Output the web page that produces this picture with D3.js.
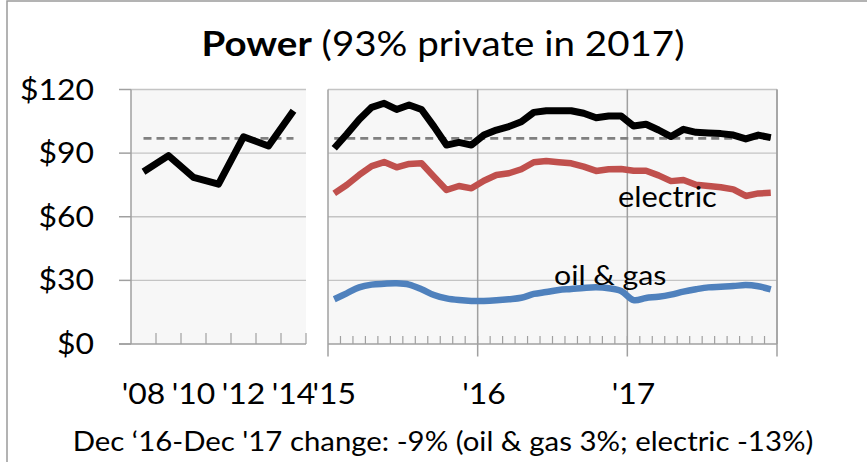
<!DOCTYPE html>
<html>
<head>
  <meta charset="UTF-8">
  <style>
    body { margin: 0; background: #fff; }
    svg text { font-family: Lato, "Open Sans", sans-serif; fill: #000; }
  </style>
  <script src="https://cdn.jsdelivr.net/npm/d3@7"></script>
</head>
<body>
<svg id="chart" width="867" height="462"></svg>
<script>
// annual totals, 2008-2014
const years = [2008, 2009, 2010, 2011, 2012, 2013, 2014];
const yearTotal = [81.2, 88.8, 78.6, 75.4, 97.7, 93.4, 110.0];
const yearLabels = {2008: "'08", 2010: "'10", 2012: "'12", 2014: "'14"};

// monthly, Jan 2015 - Dec 2017
const months = [2015, 2016, 2017].flatMap(y => d3.range(1, 13).map(m => y + "-" + m));
const monthLabels = {"2015-1": "'15", "2016-1": "'16", "2017-1": "'17"};
const total = [92.3, 98.9, 105.9, 111.6, 113.5, 110.6, 112.7, 110.6, 102.5, 93.8, 95.1, 93.8,
               98.5, 100.9, 102.5, 104.8, 109.2, 110.0, 110.0, 110.0, 108.8, 106.7, 107.5, 107.5,
               102.8, 103.6, 100.9, 97.8, 101.2, 99.8, 99.5, 99.2, 98.5, 96.7, 98.5, 97.3];
const electric = [71.0, 75.0, 79.7, 83.9, 85.8, 83.3, 84.9, 85.2, 78.9, 72.6, 74.5, 73.4,
                  77.0, 79.7, 80.5, 82.4, 85.7, 86.3, 85.7, 85.2, 83.6, 81.6, 82.4, 82.5,
                  81.7, 81.7, 79.5, 76.8, 77.3, 75.1, 74.5, 73.9, 72.9, 69.8, 71.0, 71.3];
const oilGas = [21.1, 23.9, 26.7, 28.0, 28.4, 28.6, 28.0, 25.8, 23.1, 21.5, 20.7, 20.3,
                20.3, 20.6, 21.1, 21.8, 23.6, 24.5, 25.5, 25.9, 26.4, 26.7, 26.3, 25.0,
                20.7, 21.7, 22.3, 23.3, 24.7, 25.8, 26.7, 27.0, 27.3, 27.8, 27.2, 25.8];
const refLevel = 97;   // Dec '17 level, dashed
const yTicks = [0, 30, 60, 90, 120];

const sx = 1.1; // text in the original is a bit wide
const svg = d3.select("#chart");

let y = d3.scaleLinear().domain([0, 120]).range([344, 89.5]);
let xL = d3.scaleBand().domain(years).range([131, 306]);
let xR = d3.scaleBand().domain(months).range([328, 777]);

function txt(x, yy, s, size, anchor, k) {
  return svg.append("text")
    .attr("transform", "translate(" + x + "," + yy + ") scale(" + (k || sx) + ",1)")
    .attr("text-anchor", anchor || "start")
    .style("font-size", size + "px")
    .text(s);
}

// outer frame
svg.append("rect").attr("x", 7).attr("y", 1).attr("width", 900).attr("height", 500)
  .attr("fill", "none").attr("stroke", "#9a9a9a").attr("stroke-width", 1.5);

// plot backgrounds
svg.append("rect").attr("x", 131).attr("y", y(120)).attr("width", 306 - 131).attr("height", y(0) - y(120)).attr("fill", "#f7f7f7");
svg.append("rect").attr("x", 328).attr("y", y(120)).attr("width", 777 - 328).attr("height", y(0) - y(120)).attr("fill", "#f7f7f7");

// horizontal grid
[[131, 306], [328, 777]].forEach(r => {
  svg.append("g").selectAll("line").data(yTicks.filter(d => d > 0)).join("line")
    .attr("x1", r[0]).attr("x2", r[1]).attr("y1", d => y(d)).attr("y2", d => y(d))
    .attr("stroke", "#c4c4c4").attr("stroke-width", 1.3);
});

// right panel frame + year gridlines
svg.append("line").attr("x1", 777).attr("x2", 777).attr("y1", y(120)).attr("y2", y(0))
  .attr("stroke", "#a6a6a6").attr("stroke-width", 1.5);
let yearStarts = ["2015-1", "2016-1", "2017-1"].map(m => xR(m)).concat([777]);
svg.append("g").selectAll("line").data(yearStarts).join("line")
  .attr("x1", d => d).attr("x2", d => d).attr("y1", y(120)).attr("y2", y(0) + 12.5)
  .attr("stroke", "#a0a0a0").attr("stroke-width", 1.5);

// month minor ticks
svg.append("g").selectAll("line").data(months.slice(1)).join("line")
  .attr("x1", d => xR(d)).attr("x2", d => xR(d)).attr("y1", y(0) - 8).attr("y2", y(0))
  .attr("stroke", "#a0a0a0").attr("stroke-width", 1.2);
svg.append("line").attr("x1", 328).attr("x2", 777).attr("y1", y(0)).attr("y2", y(0))
  .attr("stroke", "#a0a0a0").attr("stroke-width", 1.5);

// left panel axes
svg.append("line").attr("x1", 131).attr("x2", 131).attr("y1", y(120)).attr("y2", y(0))
  .attr("stroke", "#a0a0a0").attr("stroke-width", 1.5);
svg.append("g").selectAll("line").data(yTicks).join("line")
  .attr("x1", 119).attr("x2", 131).attr("y1", d => y(d)).attr("y2", d => y(d))
  .attr("stroke", "#a0a0a0").attr("stroke-width", 1.5);
svg.append("line").attr("x1", 119).attr("x2", 306).attr("y1", y(0)).attr("y2", y(0))
  .attr("stroke", "#a0a0a0").attr("stroke-width", 1.5);
svg.append("g").selectAll("line").data(years).join("line")
  .attr("x1", d => xL(d) + xL.bandwidth()).attr("x2", d => xL(d) + xL.bandwidth())
  .attr("y1", y(0) - 11).attr("y2", y(0))
  .attr("stroke", "#a0a0a0").attr("stroke-width", 1.2);

// dashed reference
let cL = d => xL(d) + xL.bandwidth() / 2;
let cR = d => xR(d) + xR.bandwidth() / 2;
svg.append("line").attr("x1", cL(years[0])).attr("x2", cL(years[years.length - 1]))
  .attr("y1", y(refLevel)).attr("y2", y(refLevel))
  .attr("stroke", "#808080").attr("stroke-width", 2.7).attr("stroke-dasharray", "8,5");
svg.append("line").attr("x1", cR(months[0])).attr("x2", cR(months[months.length - 1]))
  .attr("y1", y(refLevel)).attr("y2", y(refLevel))
  .attr("stroke", "#808080").attr("stroke-width", 2.7).attr("stroke-dasharray", "8,5");

// lines
let lineL = d3.line().x((d, i) => cL(years[i])).y(d => y(d));
let lineR = d3.line().x((d, i) => cR(months[i])).y(d => y(d));
svg.append("path").attr("d", lineL(yearTotal)).attr("fill", "none")
  .attr("stroke", "#000").attr("stroke-width", 7).attr("stroke-linejoin", "round");
svg.append("path").attr("d", lineR.curve(d3.curveCatmullRom)(oilGas)).attr("fill", "none")
  .attr("stroke", "#4f81bd").attr("stroke-width", 6.5).attr("stroke-linejoin", "round");
lineR.curve(d3.curveLinear);
svg.append("path").attr("d", lineR(electric)).attr("fill", "none")
  .attr("stroke", "#c0504d").attr("stroke-width", 6.5).attr("stroke-linejoin", "round");
svg.append("path").attr("d", lineR(total)).attr("fill", "none")
  .attr("stroke", "#000").attr("stroke-width", 7).attr("stroke-linejoin", "round");

// y labels
yTicks.forEach(d => txt(94, y(d) + 10, "$" + d, 29, "end"));

// x labels
years.filter(d => yearLabels[d]).forEach(d => txt(cL(d), 404, yearLabels[d], 29, "middle"));
months.filter(d => monthLabels[d]).forEach(d => txt(cR(d), 404, monthLabels[d], 29, "middle"));

// series labels
txt(618, 207, "electric", 28);
txt(554, 285, "oil & gas", 27.5);

// title
let t = svg.append("text")
  .attr("transform", "translate(443,56) scale(" + sx + ",1)")
  .attr("text-anchor", "middle").style("font-size", "35px");
t.append("tspan").style("font-weight", "bold").text("Power");
t.append("tspan").text(" (93% private in 2017)");

// footnote
txt(443, 451, "Dec \u201816-Dec '17 change: -9% (oil & gas 3%; electric -13%)", 26, "middle", 1.13);
</script>
</body>
</html>
